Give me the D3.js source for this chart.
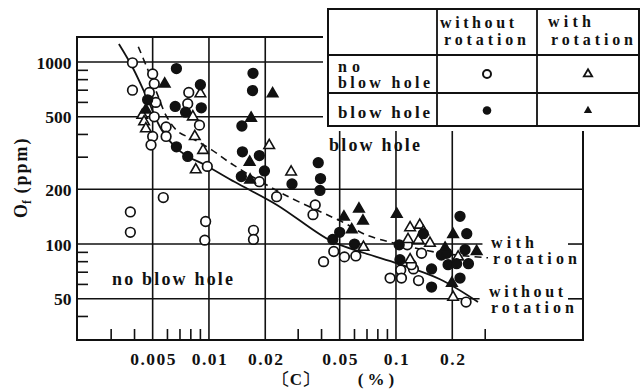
<!DOCTYPE html>
<html>
<head>
<meta charset="utf-8">
<script src="https://cdn.jsdelivr.net/npm/d3@7/dist/d3.min.js"></script>
<style>
  body { margin: 0; background: #fff; }
  svg text { font-family: "Liberation Serif", "Times New Roman", serif; font-weight: bold; fill: #111; }
</style>
</head>
<body>
<svg id="chart" width="642" height="389"></svg>
<script>
// points are [C (%), Of (ppm)]
const noHoleWithout = [
  [0.0039, 990], [0.0039, 700], [0.0050, 860], [0.0051, 760], [0.0048, 680], [0.0052, 600],
  [0.0051, 500], [0.0059, 440], [0.0059, 390], [0.0050, 390], [0.0049, 350], [0.0057, 180],
  [0.0078, 680], [0.0077, 590], [0.0089, 450], [0.0098, 267], [0.0038, 150], [0.0038, 116],
  [0.0096, 133], [0.0095, 105], [0.0173, 119], [0.0173, 106], [0.0186, 220], [0.023, 182],
  [0.037, 164], [0.036, 145], [0.0465, 91], [0.053, 85], [0.061, 86], [0.041, 80],
  [0.106, 72], [0.093, 65], [0.107, 65], [0.124, 73], [0.137, 89], [0.121, 77],
  [0.132, 63], [0.237, 48], [0.115, 99]
]
const noHoleWith = [
  [0.0044, 510], [0.0045, 470], [0.0046, 430], [0.0090, 670], [0.0082, 500], [0.0084, 390],
  [0.0093, 327], [0.0085, 256], [0.021, 348], [0.0275, 249], [0.067, 96], [0.119, 123],
  [0.134, 127], [0.116, 106], [0.119, 82], [0.132, 105], [0.152, 101], [0.215, 85],
  [0.202, 51], [0.14, 117]
]
const holeWithout = [
  [0.0067, 920], [0.0047, 620], [0.0090, 750], [0.0066, 570], [0.0075, 530], [0.0091, 560],
  [0.0067, 342], [0.0077, 303], [0.0172, 867], [0.0171, 697], [0.015, 445], [0.0151, 321],
  [0.0186, 306], [0.0149, 235], [0.0198, 252], [0.0278, 214], [0.0384, 280], [0.0395, 229],
  [0.0392, 197], [0.050, 116], [0.0459, 106], [0.060, 100], [0.104, 99], [0.105, 82],
  [0.22, 142], [0.239, 114], [0.14, 114], [0.175, 87], [0.187, 89], [0.234, 93],
  [0.155, 73], [0.19, 77], [0.211, 78], [0.244, 78], [0.22, 65], [0.155, 58]
]
const holeWith = [
  [0.0058, 757], [0.0046, 545], [0.0219, 670], [0.0168, 492], [0.0165, 282], [0.0166, 225],
  [0.0527, 141], [0.0634, 156], [0.0666, 134], [0.058, 120], [0.101, 146], [0.202, 113],
  [0.183, 95], [0.27, 91], [0.199, 61]
]

// the two hand drawn trend curves
const curveWithout = [
  [0.0033, 1256], [0.00392, 927], [0.00472, 618], [0.00559, 423], [0.00658, 342],
  [0.00775, 302], [0.00952, 272], [0.01377, 219], [0.0231, 164], [0.0449, 104],
  [0.0683, 89], [0.1025, 78], [0.1719, 64], [0.2745, 48]
]
const curveWith = [
  [0.00419, 1213], [0.00464, 943], [0.00536, 645], [0.00594, 501], [0.00685, 414],
  [0.00842, 373], [0.01034, 329], [0.01349, 272], [0.0255, 186], [0.0534, 130],
  [0.0683, 113], [0.1025, 100], [0.1762, 89], [0.3105, 84]
]

const xTicks = [0.005, 0.01, 0.02, 0.05, 0.1, 0.2]
const xTickLabels = ["0.005", "0.01", "0.02", "0.05", "0.1", "0.2"]
const xMinor = [0.003, 0.004, 0.006, 0.007, 0.008, 0.009, 0.03, 0.04, 0.06, 0.07, 0.08, 0.09, 0.3]
const yTicks = [1000, 500, 200, 100, 50]
const yTickLabels = ["1000", "500", "200", "100", "50"]
const yMinor = [900, 800, 700, 600, 400, 300, 90, 80, 70, 60, 40]

const svg = d3.select('#chart')

const x = d3.scaleLog()
    .domain([0.00197, 1.0])
    .range([77, 583])
const y = d3.scaleLog()
    .domain([29.7, 1372])
    .range([340, 37])

const plotLeft = 77, plotRight = 583, plotTop = 37, plotBottom = 340
const boxX = 328, boxY = 9, boxW = 311, boxH = 117
const underBox = boxY + boxH + 5
const ink = '#111'

const grid = svg.append('g')
    .attr('stroke', ink)
    .attr('stroke-width', 1.6)
    .attr('fill', 'none')

// horizontal grid; the upper ones stop at the legend box, two are cut for the curve labels
const labelGapStart = { 100: x(0.29), 50: x(0.28) }
yTicks.forEach(v => {
    const yy = y(v)
    if (yy < underBox) {
        grid.append('line').attr('x1', plotLeft).attr('x2', boxX - 5).attr('y1', yy).attr('y2', yy)
    } else if (labelGapStart[v]) {
        grid.append('line').attr('x1', plotLeft).attr('x2', labelGapStart[v]).attr('y1', yy).attr('y2', yy)
        grid.append('line').attr('x1', plotRight - 15).attr('x2', plotRight).attr('y1', yy).attr('y2', yy)
    } else {
        grid.append('line').attr('x1', plotLeft).attr('x2', plotRight).attr('y1', yy).attr('y2', yy)
    }
})

xTicks.forEach(v => {
    const xx = x(v)
    grid.append('line')
        .attr('x1', xx).attr('x2', xx)
        .attr('y1', xx > boxX ? underBox : plotTop)
        .attr('y2', plotBottom)
})

// frame
grid.append('path')
    .attr('stroke-width', 2)
    .attr('d', `M${boxX - 5},${plotTop}H${plotLeft}V${plotBottom}H${plotRight}V${underBox}`)

// minor ticks, drawn inward
grid.selectAll('line.ym')
  .data(yMinor)
  .join('line')
    .attr('class', 'ym')
    .attr('x1', plotLeft).attr('x2', plotLeft + 11)
    .attr('y1', d => y(d)).attr('y2', d => y(d))
grid.selectAll('line.xm')
  .data(xMinor)
  .join('line')
    .attr('class', 'xm')
    .attr('x1', d => x(d)).attr('x2', d => x(d))
    .attr('y1', plotBottom).attr('y2', plotBottom - 11)

// tick labels
svg.append('g')
  .selectAll('text')
  .data(yTicks)
  .join('text')
    .attr('x', 71.5)
    .attr('y', d => y(d) + 6.5)
    .attr('text-anchor', 'end')
    .attr('font-size', 17.5)
    .text((d, i) => yTickLabels[i])

svg.append('g')
  .selectAll('text')
  .data(xTicks)
  .join('text')
    .attr('x', d => x(d) + 1)
    .attr('y', 365)
    .attr('text-anchor', 'middle')
    .attr('font-size', 17.5)
    .attr('letter-spacing', 1.5)
    .text((d, i) => xTickLabels[i])

// axis titles
const yTitle = svg.append('text')
    .attr('transform', 'translate(27,218) rotate(-90)')
    .attr('font-size', 18)
yTitle.append('tspan').text('O')
yTitle.append('tspan').attr('font-size', 12).attr('dy', 4).text('f')
yTitle.append('tspan').attr('dy', -4).attr('letter-spacing', 2).text(' (ppm)')

svg.append('text')
    .attr('x', 296).attr('y', 385)
    .attr('text-anchor', 'middle')
    .attr('font-size', 17)
    .text('〔C〕')
svg.append('text')
    .attr('x', 378).attr('y', 385)
    .attr('text-anchor', 'middle')
    .attr('font-size', 17)
    .attr('letter-spacing', 4)
    .text('(%)')

// trend curves
const line = d3.line()
    .x(d => x(d[0]))
    .y(d => y(d[1]))
    .curve(d3.curveCatmullRom.alpha(0.5))

svg.append('path')
    .datum(curveWithout)
    .attr('fill', 'none')
    .attr('stroke', ink)
    .attr('stroke-width', 1.8)
    .attr('d', line)

svg.append('path')
    .datum(curveWith)
    .attr('fill', 'none')
    .attr('stroke', ink)
    .attr('stroke-width', 1.6)
    .attr('stroke-dasharray', '7,5')
    .attr('d', line)

// scatter
const tri = d3.symbol().type(d3.symbolTriangle)

function drawCircles(data, filled, r) {
    svg.append('g')
      .selectAll('circle')
      .data(data)
      .join('circle')
        .attr('cx', d => x(d[0]))
        .attr('cy', d => y(d[1]))
        .attr('r', r)
        .attr('fill', filled ? ink : '#fff')
        .attr('stroke', ink)
        .attr('stroke-width', 1.7)
}

function drawTriangles(data, filled, size) {
    svg.append('g')
      .selectAll('path')
      .data(data)
      .join('path')
        .attr('transform', d => `translate(${x(d[0])},${y(d[1])})`)
        .attr('d', tri.size(size)())
        .attr('fill', filled ? ink : '#fff')
        .attr('stroke', ink)
        .attr('stroke-width', 1.6)
}

drawCircles(noHoleWithout, false, 4.8)
drawTriangles(noHoleWith, false, 48)
drawCircles(holeWithout, true, 4.8)
drawTriangles(holeWith, true, 48)

// labels in the plot
function label(txt, lx, ly, len, fs) {
    svg.append('text')
        .attr('x', lx).attr('y', ly)
        .attr('font-size', fs)
        .attr('textLength', len)
        .attr('lengthAdjust', 'spacing')
        .text(txt)
}
label('blow hole', 329, 151, 91, 18)
label('no blow hole', 112, 285, 121, 18)
label('with', 491, 248, 43, 16)
label('rotation', 493, 264, 84, 16)
label('without', 489, 297, 74, 16)
label('rotation', 491, 313, 83, 16)

// legend table
const legend = svg.append('g')
legend.append('rect')
    .attr('x', boxX).attr('y', boxY)
    .attr('width', boxW).attr('height', boxH)
    .attr('fill', '#fff')
    .attr('stroke', ink)
    .attr('stroke-width', 2)
const colA = 437, colB = 537, rowA = 55, rowB = 93
legend.append('path')
    .attr('stroke', ink)
    .attr('stroke-width', 1.8)
    .attr('d', `M${boxX},${rowA}H${boxX + boxW}M${boxX},${rowB}H${boxX + boxW}M${colA},${boxY}V${boxY + boxH}M${colB},${boxY}V${boxY + boxH}`)

const legendText = [
    ['without', 440, 28, 74, 16], ['rotation', 444, 45, 82, 16],
    ['with', 548, 27, 43, 16], ['rotation', 551, 45, 82, 16],
    ['no', 338, 72, 22, 16], ['blow hole', 338, 88, 92, 16],
    ['blow hole', 338, 118, 92, 17]
]
legendText.forEach(t => {
    legend.append('text')
        .attr('x', t[1]).attr('y', t[2])
        .attr('font-size', t[4])
        .attr('textLength', t[3])
        .attr('lengthAdjust', 'spacing')
        .text(t[0])
})

const midA = (colA + colB) / 2, midB = (colB + boxX + boxW) / 2
legend.append('circle').attr('cx', midA).attr('cy', (rowA + rowB) / 2).attr('r', 4)
    .attr('fill', '#fff').attr('stroke', ink).attr('stroke-width', 2)
legend.append('circle').attr('cx', midA).attr('cy', (rowB + boxY + boxH) / 2 + 1).attr('r', 4.3)
    .attr('fill', ink)
legend.append('path').attr('transform', `translate(${midB},${(rowA + rowB) / 2})`)
    .attr('d', tri.size(30)()).attr('fill', '#fff').attr('stroke', ink).attr('stroke-width', 1.8)
legend.append('path').attr('transform', `translate(${midB},${(rowB + boxY + boxH) / 2 + 1})`)
    .attr('d', tri.size(30)()).attr('fill', ink)
</script>
</body>
</html>
